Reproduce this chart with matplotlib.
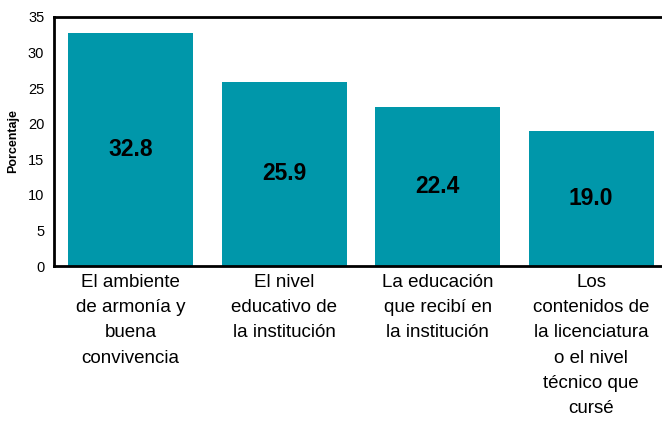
import matplotlib
matplotlib.use("Agg")
import matplotlib.pyplot as plt

categories = [
    "El ambiente\nde armonía y\nbuena\nconvivencia",
    "El nivel\neducativo de\nla institución",
    "La educación\nque recibí en\nla institución",
    "Los\ncontenidos de\nla licenciatura\no el nivel\ntécnico que\ncursé",
]
values = [32.8, 25.9, 22.4, 19.0]
yticks = [0, 5, 10, 15, 20, 25, 30, 35]

plt.rcParams['font.family'] = ['Liberation Sans', 'DejaVu Sans']

fig = plt.figure(figsize=(6.62, 4.21), dpi=100)
ax = fig.add_axes([54/662, 1-266/421, 614/662, (266-17)/421])
x = range(len(values))
bars = ax.bar(x, values, width=0.815, color='#0097AA')
for xi, v in zip(x, values):
    ax.text(xi, v/2, f"{v:.1f}", ha='center', va='center', fontsize=16.5, fontweight='bold', color='black')
ax.set_xlim(-0.5, 3.5)
ax.set_ylim(0, 35)
ax.set_yticks(yticks)
ax.set_yticklabels([str(t) for t in yticks], fontsize=10.5)
ax.set_xticks(list(x))
ax.set_xticklabels(categories, fontsize=13.5, linespacing=1.62, va='top')
ax.tick_params(axis='both', length=0, pad=7)
ax.tick_params(axis='x', pad=6)
for s in ax.spines.values():
    s.set_linewidth(2)
    s.set_color('black')
ax.set_ylabel("Porcentaje", fontsize=9, fontweight='bold', labelpad=6)
fig.savefig("out.png", dpi=100)
